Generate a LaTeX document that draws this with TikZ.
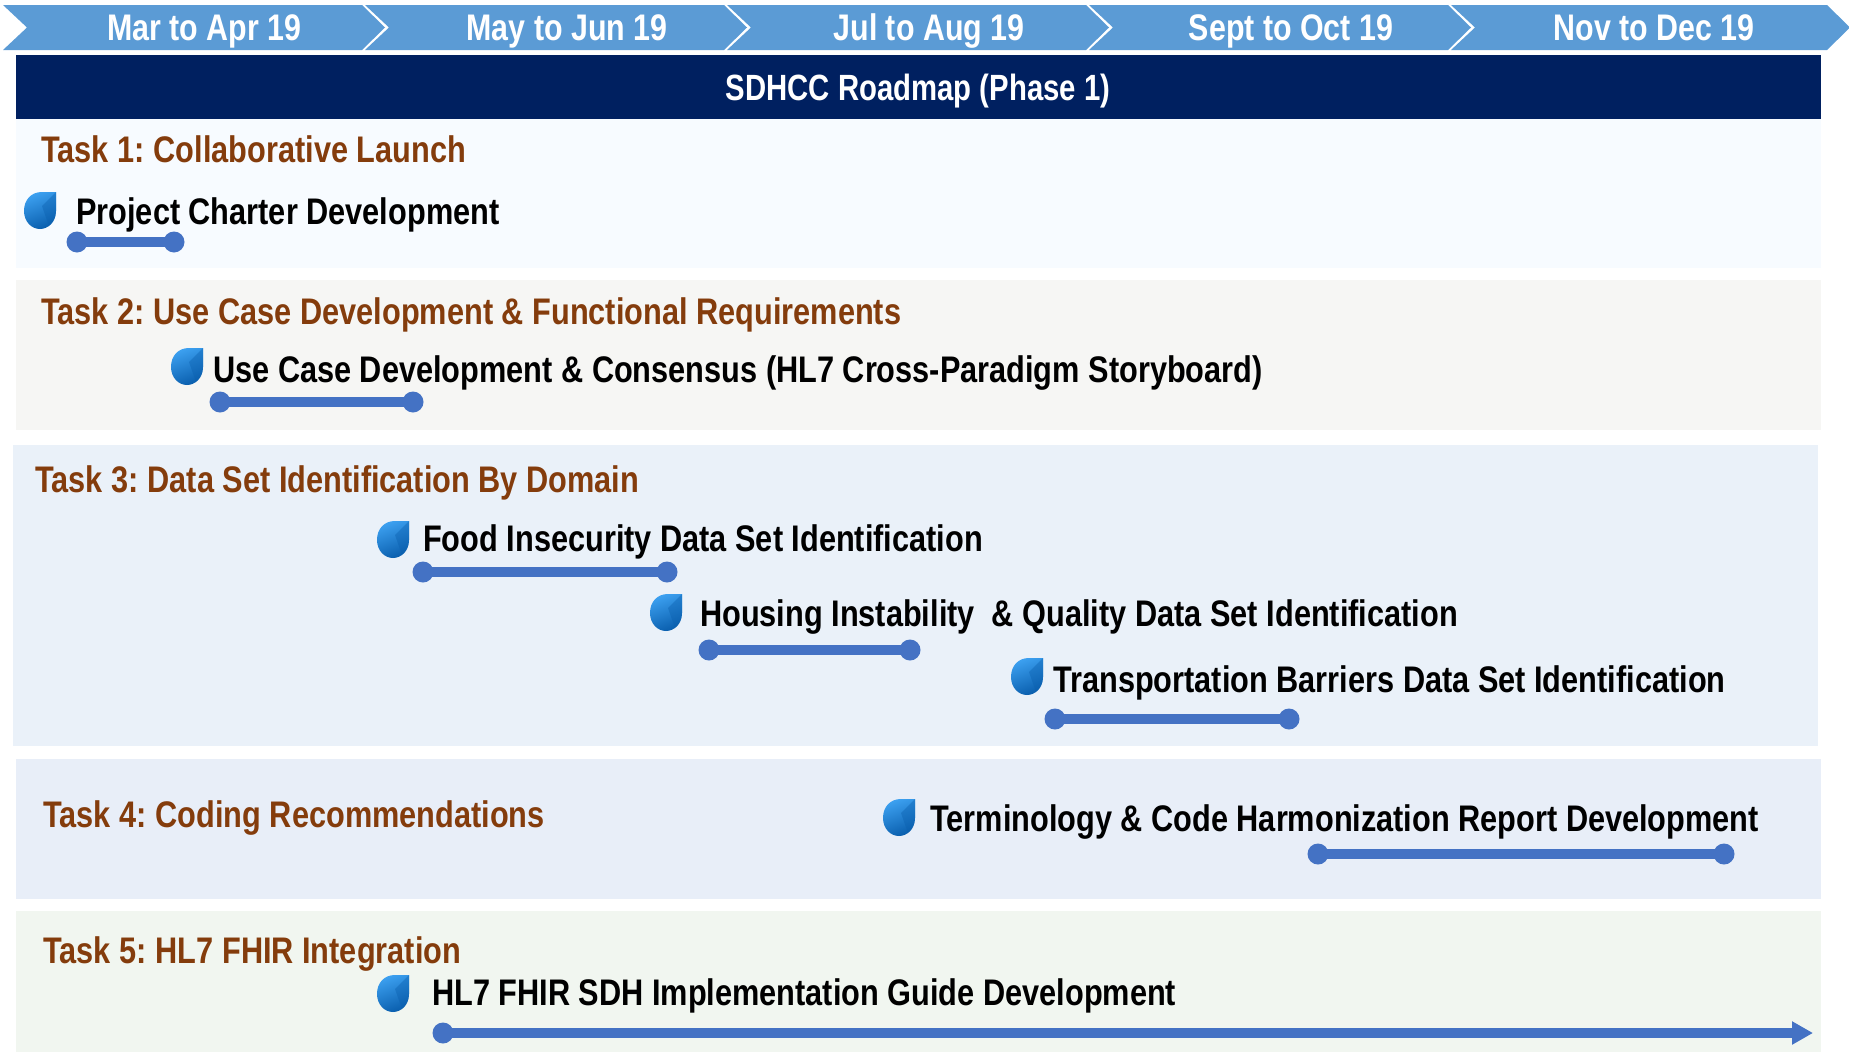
\documentclass[tikz,border=0pt]{standalone}
\usepackage{fontspec}
\usetikzlibrary{arrows.meta}
\newfontfamily\lab[FakeStretch=0.83]{Liberation Sans Bold}
\newfontfamily\monthfont[FakeStretch=0.821]{Liberation Sans Bold}
\newfontfamily\titlefont[FakeStretch=0.803]{Liberation Sans Bold}
\definecolor{chev}{HTML}{5B9BD5}
\definecolor{navy}{HTML}{002060}
\definecolor{taskc}{HTML}{843C0C}
\definecolor{barc}{HTML}{4472C4}
\definecolor{bandA}{HTML}{F7FBFF}
\definecolor{bandB}{HTML}{F6F6F4}
\definecolor{bandC}{HTML}{EAF1F9}
\definecolor{bandD}{HTML}{E8EEF8}
\definecolor{bandE}{HTML}{F1F6F0}
\definecolor{dropA}{HTML}{3CA0F0}
\definecolor{dropC}{HTML}{0A5FAE}
\newcommand{\cg}{\hspace{-2.4pt}}
\tikzset{
  x=1pt,y=-1pt,
  monthlab/.style={font=\monthfont\fontsize{37}{37}\selectfont,text=white,inner sep=0pt,anchor=base},
  titlelab/.style={font=\titlefont\fontsize{36.5}{37}\selectfont,text=white,inner sep=0pt,anchor=base},
  tasklab/.style={font=\lab\fontsize{37}{37}\selectfont,text=taskc,inner sep=0pt,anchor=base west},
  itemlab/.style={font=\lab\fontsize{37}{37}\selectfont,text=black,inner sep=0pt,anchor=base west},
  dot/.style={circle,fill=barc,draw=none,minimum size=21pt,inner sep=0pt},
  bar/.style={draw=barc,line width=10pt},
  arrowbar/.style={draw=barc,line width=10pt,-{Triangle[length=21pt,width=22pt]}},
  drop/.pic={
    \path[top color=dropA,bottom color=dropC,shading angle=20]
      (16,-18) -- (16,1) .. controls (16,12) and (8,19) .. (0,19) .. controls (-9,19) and (-16,11) .. (-16,1) .. controls (-16,-10) and (-9,-18) .. (2,-18) -- cycle;
    \fill[dropC,opacity=0.4] (16,-18) -- (16,1) .. controls (16,8) and (13,13) .. (9,16) -- (2,-4) -- cycle;
  }
}
\begin{document}
\begin{tikzpicture}
\useasboundingbox (0,0) rectangle (1849,1052);
% chevrons
\foreach \xa/\xb in {3/362,365/724,727/1086,1089/1448,1451/1827}{
  \pgfmathsetmacro{\xn}{\xa+24}
  \pgfmathsetmacro{\xt}{\xb+23}
  \fill[chev] (\xa,5) -- (\xb,5) -- (\xt,27.5) -- (\xb,50) -- (\xa,50) -- (\xn,27.5) -- cycle;
}
\node[monthlab] (m1) at (204.5,40) {Mar to Apr 19};
\node[monthlab] (m2) at (567,40) {May to Jun 19};
\node[monthlab] (m3) at (929,40) {Jul to Aug 19};
\node[monthlab] (m4) at (1291,40) {Sept to Oct 19};
\node[monthlab] (m5) at (1654,40) {Nov to Dec 19};
% bands
\fill[navy] (16,55) rectangle (1821,119);
\fill[bandA] (16,119) rectangle (1821,268);
\fill[bandB] (16,279.5) rectangle (1821,430);
\fill[bandC] (13,444.5) rectangle (1818,746);
\fill[bandD] (16,759) rectangle (1821,899);
\fill[bandE] (16,911) rectangle (1821,1052);
\node[titlelab] (title) at (918,100) {SDHCC Roadmap (Phase 1)};
% task titles
\node[tasklab] (t1) at (41,162) {Task 1:\cg{} Collaborative Launch};
\node[tasklab] (t2) at (41,324) {Task 2:\cg{} Use Case Development \& Functional Requirements};
\node[tasklab] (t3) at (35,492) {Task 3:\cg{} Data Set Identification By Domain};
\node[tasklab] (t4) at (43,827) {Task 4:\cg{} Coding Recommendations};
\node[tasklab] (t5) at (43,963) {Task 5:\cg{} HL7 FHIR Integration};
% items
\node[itemlab] (i1) at (76,224) {Project Charter Development};
\node[itemlab] (i2) at (213,382) {Use Case Development \& Consensus (HL7 Cross-Paradigm Storyboard)};
\node[itemlab] (i3) at (423,551) {Food Insecurity Data Set Identification};
\node[itemlab] (i4) at (700,626.5) {Housing Instability \ \& Quality Data Set Identification};
\node[itemlab] (i5) at (1053,692) {Transportation Barriers Data Set Identification};
\node[itemlab] (i6) at (930,831) {Terminology \& Code Harmonization Report Development};
\node[itemlab] (i7) at (432,1005) {HL7 FHIR SDH Implementation Guide Development};
% icons
\pic at (40,210) {drop};
\pic at (187,366) {drop};
\pic at (393,539) {drop};
\pic at (666,612) {drop};
\pic at (1027,676) {drop};
\pic at (899,817) {drop};
\pic at (393,993) {drop};
% bars
\foreach \n/\xa/\xb/\yy in {a/77/174/242,b/220/413/402,c/423/667/572,d/709/910/650,e/1055/1289/719,f/1318/1724/854}{
  \node[dot] (\n1) at (\xa,\yy) {};
  \node[dot] (\n2) at (\xb,\yy) {};
  \draw[bar] (\n1.center) -- (\n2.center);
}
\node[dot] (g1) at (443,1033) {};
\coordinate (g2) at (1813,1033);
\draw[arrowbar] (g1.center) -- (g2);
\end{tikzpicture}
\end{document}
